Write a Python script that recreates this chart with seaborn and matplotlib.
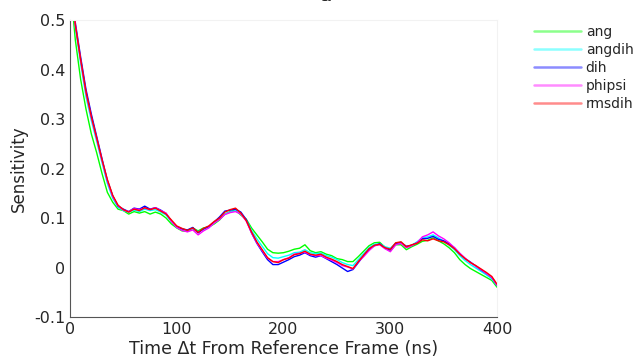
import numpy as np
import pandas as pd
import matplotlib
matplotlib.use("Agg")
import matplotlib.pyplot as plt
import seaborn as sns

# Time lag axis (ns), sampled every 5 ns
time_ns = list(range(0, 401, 5))

series_names = ["ang", "angdih", "dih", "phipsi", "rmsdih"]
series_colors = ["#00ff00", "#00ffff", "#0000ff", "#ff00ff", "#ff0000"]

ang = [
    0.580, 0.460, 0.380, 0.320, 0.270, 0.232, 0.190, 0.152, 0.132, 0.118,
    0.115, 0.108, 0.113, 0.110, 0.113, 0.108, 0.112, 0.108, 0.100, 0.088,
    0.080, 0.074, 0.073, 0.080, 0.074, 0.080, 0.082, 0.088, 0.096, 0.108,
    0.113, 0.116, 0.106, 0.098, 0.080, 0.066, 0.052, 0.037, 0.030, 0.029,
    0.030, 0.033, 0.037, 0.039, 0.046, 0.034, 0.030, 0.032, 0.027, 0.024,
    0.018, 0.016, 0.012, 0.012, 0.022, 0.033, 0.044, 0.050, 0.051, 0.041,
    0.034, 0.046, 0.046, 0.036, 0.042, 0.047, 0.053, 0.055, 0.060, 0.054,
    0.048, 0.040, 0.030, 0.016, 0.006, -0.002, -0.008, -0.014, -0.020, -0.026,
    -0.040,
]
angdih = [
    0.600, 0.485, 0.412, 0.345, 0.297, 0.255, 0.212, 0.170, 0.140, 0.122,
    0.115, 0.112, 0.116, 0.113, 0.118, 0.115, 0.117, 0.112, 0.106, 0.093,
    0.081, 0.077, 0.074, 0.078, 0.072, 0.077, 0.081, 0.090, 0.098, 0.108,
    0.112, 0.115, 0.108, 0.096, 0.075, 0.058, 0.043, 0.028, 0.020, 0.019,
    0.022, 0.025, 0.030, 0.031, 0.036, 0.030, 0.028, 0.029, 0.024, 0.021,
    0.016, 0.010, 0.006, 0.004, 0.016, 0.028, 0.040, 0.047, 0.048, 0.042,
    0.039, 0.049, 0.051, 0.041, 0.045, 0.052, 0.060, 0.062, 0.066, 0.060,
    0.053, 0.045, 0.036, 0.024, 0.014, 0.006, -0.001, -0.008, -0.015, -0.023,
    -0.037,
]
dih = [
    0.610, 0.495, 0.425, 0.360, 0.310, 0.265, 0.220, 0.176, 0.145, 0.124,
    0.118, 0.113, 0.120, 0.118, 0.124, 0.118, 0.121, 0.116, 0.109, 0.094,
    0.083, 0.078, 0.076, 0.081, 0.070, 0.078, 0.083, 0.092, 0.102, 0.114,
    0.116, 0.118, 0.112, 0.097, 0.070, 0.049, 0.032, 0.016, 0.006, 0.006,
    0.011, 0.016, 0.022, 0.025, 0.030, 0.024, 0.021, 0.024, 0.018, 0.012,
    0.006, -0.001, -0.008, -0.004, 0.010, 0.024, 0.036, 0.044, 0.048, 0.039,
    0.036, 0.049, 0.050, 0.043, 0.045, 0.050, 0.058, 0.059, 0.063, 0.057,
    0.054, 0.048, 0.040, 0.028, 0.018, 0.011, 0.003, -0.005, -0.012, -0.020,
    -0.036,
]
phipsi = [
    0.605, 0.490, 0.418, 0.352, 0.303, 0.260, 0.216, 0.175, 0.143, 0.125,
    0.116, 0.113, 0.119, 0.117, 0.120, 0.117, 0.121, 0.115, 0.110, 0.093,
    0.081, 0.075, 0.072, 0.076, 0.066, 0.074, 0.080, 0.090, 0.097, 0.107,
    0.111, 0.113, 0.108, 0.094, 0.070, 0.050, 0.034, 0.019, 0.012, 0.012,
    0.016, 0.020, 0.027, 0.029, 0.031, 0.026, 0.024, 0.024, 0.019, 0.015,
    0.010, 0.004, 0.001, -0.003, 0.012, 0.022, 0.034, 0.044, 0.046, 0.038,
    0.032, 0.046, 0.049, 0.040, 0.044, 0.050, 0.062, 0.066, 0.072, 0.064,
    0.058, 0.050, 0.040, 0.029, 0.019, 0.010, 0.003, -0.004, -0.012, -0.020,
    -0.036,
]
rmsdih = [
    0.600, 0.490, 0.420, 0.355, 0.305, 0.262, 0.218, 0.178, 0.146, 0.126,
    0.117, 0.112, 0.118, 0.115, 0.121, 0.117, 0.120, 0.114, 0.108, 0.096,
    0.084, 0.079, 0.075, 0.080, 0.071, 0.079, 0.084, 0.093, 0.100, 0.112,
    0.117, 0.120, 0.110, 0.095, 0.072, 0.052, 0.036, 0.020, 0.012, 0.010,
    0.016, 0.019, 0.026, 0.028, 0.033, 0.027, 0.025, 0.027, 0.021, 0.017,
    0.012, 0.006, 0.002, -0.002, 0.012, 0.025, 0.038, 0.045, 0.047, 0.040,
    0.037, 0.050, 0.052, 0.042, 0.046, 0.049, 0.056, 0.054, 0.058, 0.054,
    0.052, 0.046, 0.038, 0.027, 0.018, 0.010, 0.004, -0.003, -0.010, -0.018,
    -0.034,
]

x_ticks = [0, 100, 200, 300, 400]
y_ticks = [-0.1, 0, 0.1, 0.2, 0.3, 0.4, 0.5]
y_tick_labels = ["-0.1", "0", "0.1", "0.2", "0.3", "0.4", "0.5"]

frames = []
for name, vals in zip(series_names, [ang, angdih, dih, phipsi, rmsdih]):
    frames.append(pd.DataFrame({"time": time_ns, "sensitivity": vals, "method": name}))
df = pd.concat(frames, ignore_index=True)

sns.set_theme(style="white")
plt.rcParams["font.family"] = ["DejaVu Sans"]

fig = plt.figure(figsize=(6.39, 3.64), dpi=100)
ax = fig.add_axes([0.1095, 0.129, 0.6685, 0.816])

sns.lineplot(data=df, x="time", y="sensitivity", hue="method",
             hue_order=series_names, palette=series_colors,
             linewidth=1.0, ax=ax, legend=True)

ax.set_xlim(0, 400)
ax.set_ylim(-0.1, 0.5)
ax.set_xticks(x_ticks)
ax.set_yticks(y_ticks)
ax.set_yticklabels(y_tick_labels)
ax.tick_params(direction="in", length=4, width=0.8, colors="#555555",
               labelcolor="#262626", labelsize=11.5)
ax.set_xlabel("Time \u0394t From Reference Frame (ns)", fontsize=12.5,
              color="#262626", labelpad=2)
ax.set_ylabel("Sensitivity", fontsize=12, color="#262626")

for side in ["left", "bottom"]:
    ax.spines[side].set_color("#555555")
    ax.spines[side].set_linewidth(0.8)
for side in ["top", "right"]:
    ax.spines[side].set_color("#f2f2f2")
    ax.spines[side].set_linewidth(0.8)

handles, labels = ax.get_legend_handles_labels()
ax.get_legend().remove()
leg = fig.legend(handles, labels, loc="upper left",
                 bbox_to_anchor=(0.835, 0.931), frameon=False,
                 fontsize=10, handlelength=3.4, handletextpad=0.35,
                 labelspacing=0.28, borderaxespad=0, borderpad=0)
for line in leg.get_lines():
    line.set_alpha(0.45)
    line.set_linewidth(1.8)
for txt in leg.get_texts():
    txt.set_color("#262626")

fig.text(0.509, 0.986, "\u03b1", ha="center", va="bottom",
         fontsize=12, fontweight="bold", color="#262626")

fig.savefig("out.png", dpi=100)
